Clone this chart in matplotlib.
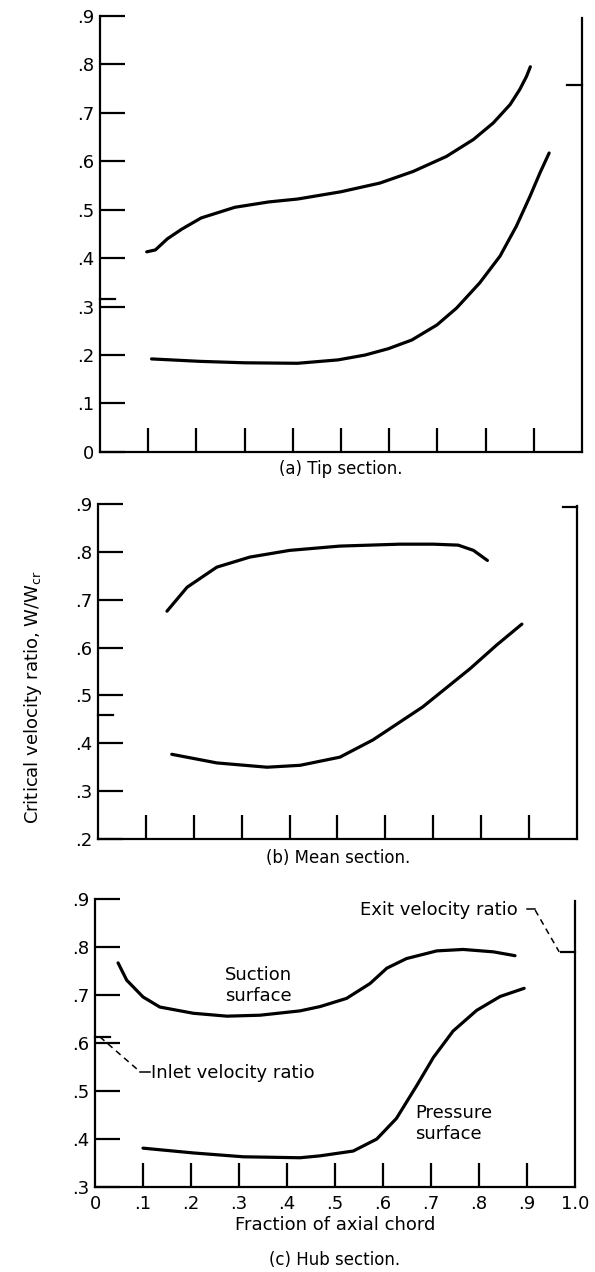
import numpy as np
import matplotlib.pyplot as plt

plt.rcParams['font.family'] = ['Liberation Sans Narrow', 'DejaVu Sans']
plt.rcParams['mathtext.fontset'] = 'custom'
plt.rcParams['mathtext.rm'] = 'Liberation Sans Narrow'
plt.rcParams['mathtext.it'] = 'Liberation Sans Narrow'

## (a) tip section
tip_suc_x = [0.097, 0.115, 0.14, 0.17, 0.21, 0.28, 0.35, 0.41, 0.50, 0.581, 0.650, 0.719, 0.775, 0.816, 0.851, 0.871, 0.885, 0.893]
tip_suc_y = [0.413, 0.417, 0.44, 0.46, 0.483, 0.505, 0.516, 0.522, 0.537, 0.555, 0.579, 0.610, 0.645, 0.679, 0.717, 0.748, 0.775, 0.795]
tip_pre_x = [0.107, 0.207, 0.30, 0.41, 0.494, 0.55, 0.598, 0.647, 0.699, 0.740, 0.788, 0.830, 0.864, 0.892, 0.913, 0.932]
tip_pre_y = [0.192, 0.187, 0.184, 0.183, 0.190, 0.200, 0.213, 0.231, 0.262, 0.297, 0.349, 0.404, 0.466, 0.527, 0.576, 0.617]

## (b) mean section
mean_suc_x = [0.144, 0.186, 0.248, 0.317, 0.40, 0.505, 0.630, 0.700, 0.752, 0.784, 0.813]
mean_suc_y = [0.676, 0.726, 0.768, 0.789, 0.803, 0.812, 0.816, 0.816, 0.814, 0.803, 0.782]
mean_pre_x = [0.154, 0.248, 0.353, 0.422, 0.505, 0.574, 0.678, 0.777, 0.832, 0.885]
mean_pre_y = [0.377, 0.359, 0.350, 0.354, 0.371, 0.407, 0.476, 0.556, 0.605, 0.649]

## (c) hub section
hub_suc_x = [0.048, 0.066, 0.10, 0.135, 0.205, 0.275, 0.344, 0.427, 0.469, 0.524, 0.573, 0.608, 0.649, 0.712, 0.767, 0.830, 0.875]
hub_suc_y = [0.767, 0.731, 0.696, 0.675, 0.662, 0.656, 0.658, 0.667, 0.676, 0.693, 0.724, 0.756, 0.776, 0.792, 0.795, 0.790, 0.782]
hub_pre_x = [0.10, 0.205, 0.309, 0.427, 0.469, 0.538, 0.587, 0.628, 0.670, 0.705, 0.746, 0.795, 0.844, 0.894]
hub_pre_y = [0.381, 0.371, 0.363, 0.361, 0.365, 0.375, 0.400, 0.443, 0.511, 0.570, 0.625, 0.668, 0.697, 0.714]

inlet = [0.316, 0.46, 0.613]
exit_ratio = [0.757, 0.893, 0.79]

xticks_all = [0, 0.1, 0.2, 0.3, 0.4, 0.5, 0.6, 0.7, 0.8, 0.9, 1.0]
xlabels = ['0', '.1', '.2', '.3', '.4', '.5', '.6', '.7', '.8', '.9', '1.0']

fig = plt.figure(figsize=(5.95, 12.72), dpi=100)
ax_a = fig.add_axes([0.168, 0.6447, 0.810, 0.3428])
ax_b = fig.add_axes([0.1647, 0.3404, 0.805, 0.2634])
ax_c = fig.add_axes([0.1597, 0.0668, 0.8067, 0.2264])


def style(ax, ylo, show_x, inl, ext):
    ax.set_xlim(0, 1)
    ax.set_ylim(ylo, 0.9)
    ax.spines['top'].set_visible(False)
    for s in ['left', 'bottom', 'right']:
        ax.spines[s].set_linewidth(1.6)
    ax.spines['right'].set_bounds(ylo, 0.895)
    yt = np.round(np.arange(ylo, 0.901, 0.1), 1)
    ax.set_yticks(yt)
    ax.set_yticklabels(['0' if v == 0 else ('%.1f' % v)[1:] for v in yt])
    ax.tick_params(axis='y', direction='in', length=18, width=1.6, pad=4, labelsize=13)
    if show_x:
        ax.set_xticks(xticks_all)
        ax.set_xticklabels(xlabels)
        ticks = ax.xaxis.get_major_ticks()
        ticks[0].tick1line.set_visible(False)
        ticks[-1].tick1line.set_visible(False)
    else:
        ax.set_xticks(xticks_all[1:-1])
        ax.set_xticklabels([])
    ax.tick_params(axis='x', direction='in', length=17, width=1.6, pad=6, labelsize=13)
    ax.plot([0, 0.032], [inl, inl], color='k', lw=1.6, clip_on=False)
    ax.plot([0.97, 1.0], [ext, ext], color='k', lw=1.6, clip_on=False)


style(ax_a, 0.0, False, inlet[0], exit_ratio[0])
style(ax_b, 0.2, False, inlet[1], exit_ratio[1])
style(ax_c, 0.3, True, inlet[2], exit_ratio[2])

for ax, sx, sy, px, py in [(ax_a, tip_suc_x, tip_suc_y, tip_pre_x, tip_pre_y),
                           (ax_b, mean_suc_x, mean_suc_y, mean_pre_x, mean_pre_y),
                           (ax_c, hub_suc_x, hub_suc_y, hub_pre_x, hub_pre_y)]:
    ax.plot(sx, sy, color='k', lw=2.3, solid_capstyle='round', solid_joinstyle='round')
    ax.plot(px, py, color='k', lw=2.3, solid_capstyle='round', solid_joinstyle='round')

# labels in hub section
ax_c.text(0.27, 0.72, 'Suction\nsurface', fontsize=13, ha='left', va='center', linespacing=1.2)
ax_c.text(0.667, 0.433, 'Pressure\nsurface', fontsize=13, ha='left', va='center', linespacing=1.2)
ax_c.text(0.117, 0.538, 'Inlet velocity ratio', fontsize=13, ha='left', va='center')
ax_c.plot([0.01, 0.094], [0.613, 0.54], color='k', lw=1.1, ls=(0, (4, 3)))
ax_c.plot([0.094, 0.114], [0.54, 0.54], color='k', lw=1.1)
ax_c.text(0.88, 0.877, 'Exit velocity ratio', fontsize=13, ha='right', va='center')
ax_c.plot([0.9, 0.917], [0.88, 0.88], color='k', lw=1.1)
ax_c.plot([0.917, 0.967], [0.877, 0.79], color='k', lw=1.1, ls=(0, (4, 3)))

ax_c.set_xlabel('Fraction of axial chord', fontsize=13, labelpad=2)

fig.text(341 / 595, 1 - 469 / 1272, '(a) Tip section.', ha='center', va='center', fontsize=12)
fig.text(338 / 595, 1 - 858 / 1272, '(b) Mean section.', ha='center', va='center', fontsize=12)
fig.text(335 / 595, 1 - 1260 / 1272, '(c) Hub section.', ha='center', va='center', fontsize=12)
fig.text(33 / 595, 1 - 697 / 1272, 'Critical velocity ratio, W/W$_{\\rm cr}$', rotation=90,
         ha='center', va='center', fontsize=13)

fig.savefig('out.png', dpi=100)
